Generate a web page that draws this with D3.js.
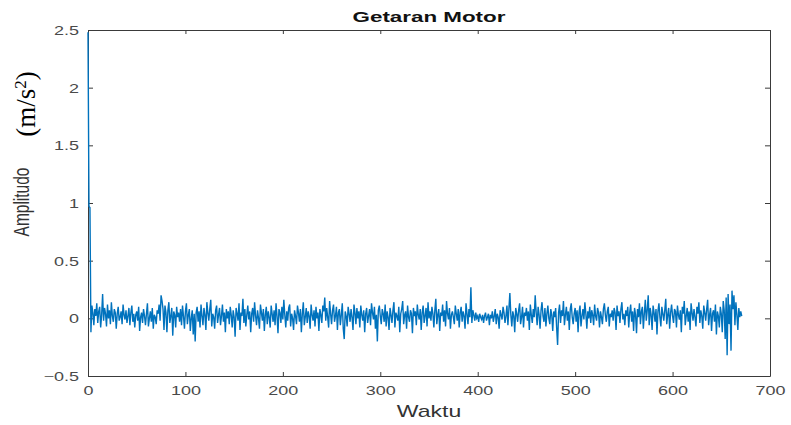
<!DOCTYPE html>
<html>
<head>
<meta charset="utf-8">
<script src="https://cdn.jsdelivr.net/npm/d3@7/dist/d3.min.js"></script>
<style>
  html, body { margin: 0; padding: 0; background: #fff; }
  svg { display: block; }
</style>
</head>
<body>
<svg id="chart" width="791" height="425"></svg>
<script>
// Motor vibration amplitude, one sample per time step (index 0 .. 671)
const amplitude = [
  2.48, 0.97, 0.96, -0.12, 0.11, 0.05, -0.06, 0.08, 0.02, 0.13, -0.04, 0.06, 0.10, -0.08, 0.03, 0.21, -0.02, 0.09, 0.04, -0.07, 0.12, 0.00, 0.07, -0.05,
  0.14, 0.02, -0.03, 0.08, 0.05, -0.09, 0.04, 0.10, -0.02, 0.01, 0.06, -0.05, 0.12, 0.03, -0.01, 0.07, -0.04, 0.02, 0.09, -0.06, 0.05, 0.11, -0.03, 0.04,
  -0.08, 0.03, 0.06, -0.02, 0.10, -0.11, 0.01, 0.05, -0.04, 0.08, 0.02, -0.06, 0.04, 0.13, -0.07, 0.00, 0.06, -0.03, 0.09, -0.09, 0.03, 0.01, -0.05, 0.07,
  0.04, 0.12, -0.02, 0.20, 0.15, 0.08, -0.10, 0.11, 0.05, -0.12, 0.07, 0.14, -0.04, 0.02, 0.09, -0.15, 0.06, 0.03, -0.08, 0.10, 0.01, 0.05, -0.03, 0.08,
  -0.06, 0.11, 0.02, -0.09, 0.06, 0.13, -0.05, 0.03, 0.08, -0.11, 0.00, 0.07, -0.14, 0.04, -0.20, 0.05, 0.10, -0.03, 0.06, -0.08, 0.12, 0.02, -0.06, 0.09,
  0.03, -0.10, 0.14, 0.05, -0.02, 0.08, 0.16, -0.07, 0.04, 0.01, -0.09, 0.07, 0.11, -0.04, 0.03, 0.09, -0.06, 0.02, 0.12, -0.03, 0.05, -0.12, 0.08, 0.00,
  0.06, -0.05, 0.10, 0.03, -0.08, 0.07, 0.01, -0.16, 0.09, 0.04, -0.02, 0.13, -0.10, 0.05, 0.02, 0.17, -0.04, 0.08, -0.07, 0.03, 0.11, -0.01, 0.06, -0.12,
  0.04, 0.09, -0.03, 0.14, 0.02, -0.06, 0.07, 0.00, -0.09, 0.12, 0.05, -0.02, 0.08, -0.11, 0.03, 0.10, -0.05, 0.06, 0.01, -0.08, 0.11, 0.04, -0.03, 0.07,
  -0.06, 0.13, 0.02, -0.13, 0.08, 0.05, -0.04, 0.10, -0.01, 0.16, 0.03, -0.08, 0.06, -0.02, 0.09, 0.12, -0.07, 0.04, 0.00, -0.10, 0.07, 0.02, -0.05, 0.11,
  0.05, -0.03, 0.08, -0.12, 0.04, 0.14, -0.06, 0.01, 0.09, -0.04, 0.06, 0.02, -0.09, 0.12, 0.03, -0.02, 0.07, -0.07, 0.10, 0.00, 0.05, -0.11, 0.08, 0.03,
  -0.04, 0.11, 0.06, 0.18, -0.02, 0.09, 0.01, -0.08, 0.15, 0.04, -0.05, 0.07, 0.12, -0.03, 0.02, 0.10, -0.10, 0.05, 0.08, -0.06, 0.03, 0.13, -0.09, -0.18,
  0.06, 0.02, -0.07, 0.10, 0.04, -0.03, 0.08, 0.01, -0.10, 0.12, 0.05, -0.05, 0.09, 0.00, 0.06, -0.08, 0.11, 0.03, -0.02, 0.07, -0.12, 0.04, 0.09, -0.04,
  0.02, 0.08, -0.06, 0.13, 0.05, -0.01, 0.10, -0.09, 0.03, -0.20, 0.07, 0.11, 0.02, -0.05, 0.08, 0.04, -0.03, 0.12, -0.07, 0.06, 0.01, -0.10, 0.09, 0.03,
  -0.04, 0.07, 0.14, -0.08, 0.05, 0.02, -0.02, 0.10, -0.12, 0.04, 0.08, 0.15, -0.05, 0.03, 0.06, -0.09, 0.11, 0.01, -0.03, 0.07, 0.04, -0.13, 0.09, 0.02,
  0.06, -0.06, 0.12, 0.03, -0.01, 0.08, -0.10, 0.05, 0.11, -0.04, 0.02, 0.09, -0.07, 0.14, 0.00, 0.06, -0.02, 0.10, 0.04, -0.08, 0.07, 0.17, -0.05, 0.03,
  0.08, -0.11, 0.05, 0.02, 0.12, -0.03, 0.07, -0.07, 0.15, 0.04, -0.01, 0.09, -0.09, 0.03, 0.06, 0.01, -0.05, 0.11, 0.04, -0.02, 0.08, -0.08, 0.05, 0.10,
  -0.03, 0.06, 0.02, -0.09, 0.13, 0.04, -0.05, 0.08, 0.01, 0.27, -0.04, 0.07, 0.03, -0.02, 0.05, 0.00, 0.02, -0.03, 0.04, 0.01, -0.01, 0.03, -0.04, 0.02,
  0.05, -0.02, 0.01, 0.04, -0.06, 0.03, 0.00, 0.06, -0.03, 0.02, 0.08, -0.05, 0.04, 0.01, -0.09, 0.07, 0.03, -0.01, 0.10, 0.05, -0.04, 0.02, 0.11, -0.06,
  0.08, 0.22, 0.03, -0.07, 0.06, 0.02, -0.12, 0.09, 0.04, -0.03, 0.07, 0.13, -0.05, 0.01, 0.10, -0.08, 0.05, 0.02, 0.09, -0.02, 0.06, -0.10, 0.12, 0.03,
  -0.04, 0.08, 0.01, 0.20, 0.05, -0.06, 0.10, 0.03, -0.09, 0.07, 0.14, 0.02, -0.03, 0.09, -0.07, 0.04, 0.11, 0.00, -0.05, 0.08, 0.03, -0.11, 0.06, 0.01,
  0.09, -0.08, -0.23, 0.05, 0.12, -0.04, 0.07, 0.02, 0.15, -0.06, 0.03, 0.10, -0.02, 0.06, -0.10, 0.08, 0.13, 0.01, -0.05, 0.04, 0.09, -0.03, 0.07, -0.12,
  0.05, 0.11, -0.07, 0.02, 0.08, -0.01, 0.14, 0.04, -0.09, 0.06, 0.00, 0.10, -0.04, 0.07, 0.03, -0.06, 0.12, 0.02, -0.02, 0.09, 0.05, -0.08, 0.06, 0.01,
  -0.05, 0.08, 0.13, 0.03, -0.03, 0.06, 0.10, -0.07, 0.04, 0.01, 0.07, -0.02, 0.09, 0.05, -0.10, 0.11, 0.02, 0.06, -0.04, 0.08, 0.14, -0.01, 0.04, -0.06,
  0.07, 0.02, 0.10, -0.08, 0.05, 0.12, -0.03, 0.06, -0.11, 0.09, 0.03, -0.13, 0.08, 0.01, 0.13, -0.05, 0.06, 0.10, -0.09, 0.04, 0.16, -0.02, 0.07, 0.20,
  -0.06, 0.09, 0.03, -0.10, 0.11, 0.05, -0.03, 0.08, -0.14, 0.06, 0.13, 0.01, -0.07, 0.10, 0.04, -0.02, 0.07, 0.17, -0.05, 0.03, 0.09, -0.09, 0.05, 0.12,
  0.02, -0.04, 0.08, 0.06, -0.08, 0.11, 0.03, -0.01, 0.07, -0.12, 0.10, 0.04, 0.15, -0.06, 0.02, 0.09, -0.03, 0.06, -0.10, 0.13, 0.05, -0.02, 0.08, 0.01,
  -0.07, 0.10, 0.04, 0.14, -0.04, 0.07, 0.02, -0.09, 0.11, 0.05, -0.02, 0.08, 0.16, -0.06, 0.03, 0.09, -0.11, 0.04, 0.07, -0.03, 0.12, -0.14, 0.06, 0.02,
  -0.08, 0.10, 0.04, -0.12, 0.15, 0.07, -0.18, 0.18, -0.32, 0.21, -0.05, 0.12, -0.28, 0.24, 0.08, 0.20, -0.06, 0.14, 0.03, -0.10, 0.09, 0.01, 0.06, 0.02
];

const xTicks = [0, 100, 200, 300, 400, 500, 600, 700];
const yTicks = [-0.5, 0, 0.5, 1, 1.5, 2, 2.5];
const xDomain = [0, 700];
const yDomain = [-0.5, 2.5];

const titleText = "Getaran Motor";
const xLabelText = "Waktu";
const yLabelText = "Amplitudo";

const W = 791, H = 425;
const plot = { left: 88, right: 770, top: 30, bottom: 376 };
const stretch = 1.44;           // wide glyph aspect of the figure text
const axisColor = "#3a3a3a";
const lineColor = "#0072BD";

const svg = d3.select("#chart");
svg.append("rect").attr("width", W).attr("height", H).attr("fill", "#fff");

const x = d3.scaleLinear().domain(xDomain).range([plot.left, plot.right]);
const y = d3.scaleLinear().domain(yDomain).range([plot.bottom, plot.top]);

// axes (ticks point inwards, box on all four sides)
const fontFamily = "'Liberation Sans', Arial, Helvetica, sans-serif";

function styleAxis(g) {
  g.select(".domain").attr("stroke", axisColor).attr("stroke-width", 1);
  g.selectAll(".tick line").attr("stroke", axisColor).attr("stroke-width", 1);
  g.selectAll(".tick text")
    .attr("fill", "#4a4a4a")
    .style("font-family", fontFamily)
    .style("font-size", "12.5px");
}

const xAxis = svg.append("g")
  .attr("transform", `translate(0,${plot.bottom})`)
  .call(d3.axisBottom(x).tickValues(xTicks).tickSizeInner(-4).tickSizeOuter(0).tickPadding(10).tickFormat(d3.format("d")))
  .call(styleAxis);
xAxis.selectAll(".tick text")
  .attr("y", 19).attr("dy", 0)
  .attr("transform", `scale(${stretch},1)`);

svg.append("g")
  .attr("transform", `translate(0,${plot.top})`)
  .call(d3.axisTop(x).tickValues(xTicks).tickSizeInner(-4).tickSizeOuter(0).tickFormat(""))
  .call(styleAxis);

const yAxis = svg.append("g")
  .attr("transform", `translate(${plot.left},0)`)
  .call(d3.axisLeft(y).tickValues(yTicks).tickSizeInner(-5).tickSizeOuter(0).tickFormat(d => d3.format("")(d)))
  .call(styleAxis);
yAxis.selectAll(".tick text")
  .attr("x", -9 / stretch).attr("dy", "0.36em")
  .attr("transform", `scale(${stretch},1)`);

svg.append("g")
  .attr("transform", `translate(${plot.right},0)`)
  .call(d3.axisRight(y).tickValues(yTicks).tickSizeInner(-5).tickSizeOuter(0).tickFormat(""))
  .call(styleAxis);

// signal trace, drawn above the axis lines
const clipId = "plot-clip";
svg.append("clipPath").attr("id", clipId)
  .append("rect")
  .attr("x", plot.left - 1).attr("y", plot.top - 1)
  .attr("width", plot.right - plot.left + 2).attr("height", plot.bottom - plot.top + 2);

const line = d3.line().x((d, i) => x(i)).y(d => y(d));
svg.append("path")
  .datum(amplitude)
  .attr("clip-path", `url(#${clipId})`)
  .attr("fill", "none")
  .attr("stroke", lineColor)
  .attr("stroke-width", 1.4)
  .attr("stroke-linejoin", "miter")
  .attr("d", line);

// title
svg.append("text")
  .attr("transform", `translate(${(plot.left + plot.right) / 2},22) scale(1.6,1)`)
  .attr("text-anchor", "middle")
  .style("font-family", fontFamily)
  .style("font-weight", "bold")
  .style("font-size", "14px")
  .attr("fill", "#111")
  .text(titleText);

// x label
svg.append("text")
  .attr("transform", `translate(${(plot.left + plot.right) / 2},417) scale(${stretch},1)`)
  .attr("text-anchor", "middle")
  .style("font-family", fontFamily)
  .style("font-size", "16px")
  .attr("fill", "#333")
  .text(xLabelText);

// y label
svg.append("text")
  .attr("transform", `translate(29,202) scale(${stretch},1) rotate(-90)`)
  .attr("text-anchor", "middle")
  .style("font-family", fontFamily)
  .style("font-size", "15.5px")
  .attr("fill", "#333")
  .text(yLabelText);

// unit label
const unit = svg.append("text")
  .attr("transform", "translate(35,104) rotate(-90)")
  .attr("text-anchor", "middle")
  .style("font-family", "'Liberation Serif', 'Times New Roman', serif")
  .style("font-size", "27px")
  .attr("fill", "#000");
unit.append("tspan").text("(m/s");
unit.append("tspan").attr("baseline-shift", "super").style("font-size", "17px").text("2");
unit.append("tspan").text(")");
</script>
</body>
</html>
